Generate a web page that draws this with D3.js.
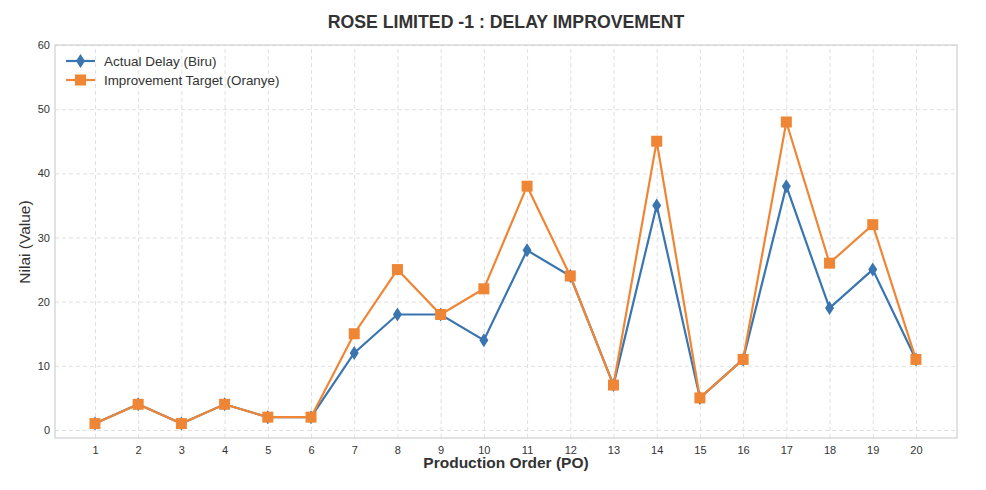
<!DOCTYPE html>
<html>
<head>
<meta charset="utf-8">
<script src="https://cdn.jsdelivr.net/npm/d3@7"></script>
<style>
  body { margin: 0; background: #fff; }
  svg { font-family: "Liberation Sans", Arial, sans-serif; }
  .grid line { stroke: #dcdcdc; stroke-dasharray: 4,3; stroke-width: 0.9; }
  .tick text { fill: #333; font-size: 11px; }
</style>
</head>
<body>
<svg id="chart"></svg>
<script>
var poOrders = [1,2,3,4,5,6,7,8,9,10,11,12,13,14,15,16,17,18,19,20];
var actualDelay = [1,4,1,4,2,2,12,18,18,14,28,24,7,35,5,11,38,19,25,11];
var improvementTarget = [1,4,1,4,2,2,15,25,18,22,38,24,7,45,5,11,48,26,32,11];
var yTicks = [0,10,20,30,40,50,60];

var width = 986, height = 490;
var margin = {top: 45, right: 29, bottom: 52, left: 55};

var svg = d3.select('#chart')
    .attr('width', width)
    .attr('height', height);

// scales
var x = d3.scaleLinear()
    .domain([0.075, 20.95])
    .range([margin.left, width - margin.right]);
var y = d3.scaleLinear()
    .domain([-1.25, 60])
    .range([height - margin.bottom, margin.top]);

// grid
svg.append('g')
    .attr('class', 'grid')
    .attr('transform', 'translate(0,' + (height - margin.bottom) + ')')
    .call(d3.axisBottom(x).tickValues(poOrders).tickSize(-(height - margin.top - margin.bottom)).tickFormat(''))
    .call(g => g.select('.domain').remove());
svg.append('g')
    .attr('class', 'grid')
    .attr('transform', 'translate(' + margin.left + ',0)')
    .call(d3.axisLeft(y).tickValues(yTicks).tickSize(-(width - margin.left - margin.right)).tickFormat(''))
    .call(g => g.select('.domain').remove());

// axes labels
svg.append('g')
    .attr('transform', 'translate(0,' + (height - margin.bottom) + ')')
    .call(d3.axisBottom(x).tickValues(poOrders).tickSize(0).tickPadding(8).tickFormat(d3.format('d')))
    .call(g => g.select('.domain').remove());
svg.append('g')
    .attr('transform', 'translate(' + margin.left + ',0)')
    .call(d3.axisLeft(y).tickValues(yTicks).tickSize(0).tickPadding(5))
    .call(g => g.select('.domain').remove());

// frame
svg.append('rect')
    .attr('x', margin.left)
    .attr('y', margin.top)
    .attr('width', width - margin.left - margin.right)
    .attr('height', height - margin.top - margin.bottom)
    .attr('fill', 'none')
    .attr('stroke', '#cfcfcf')
    .attr('stroke-width', 1.2);

var blue = '#3a75b0', orange = '#ef8636';

var line = d3.line()
    .x((d, i) => x(poOrders[i]))
    .y(d => y(d));

function diamond(sel, cx, cy) {
  sel.append('path')
    .attr('d', 'M' + cx + ',' + (cy - 7) + 'L' + (cx + 4.5) + ',' + cy + 'L' + cx + ',' + (cy + 7) + 'L' + (cx - 4.5) + ',' + cy + 'Z')
    .attr('fill', blue);
}
function square(sel, cx, cy) {
  sel.append('rect')
    .attr('x', cx - 5.5).attr('y', cy - 5.5)
    .attr('width', 11).attr('height', 11)
    .attr('fill', orange);
}

// actual delay
svg.append('path')
    .datum(actualDelay)
    .attr('fill', 'none')
    .attr('stroke', blue)
    .attr('stroke-width', 2.2)
    .attr('d', line);
var gA = svg.append('g');
actualDelay.forEach((d, i) => diamond(gA, x(poOrders[i]), y(d)));

// improvement target
svg.append('path')
    .datum(improvementTarget)
    .attr('fill', 'none')
    .attr('stroke', orange)
    .attr('stroke-width', 2.2)
    .attr('d', line);
var gT = svg.append('g');
improvementTarget.forEach((d, i) => square(gT, x(poOrders[i]), y(d)));

// legend
var legend = svg.append('g');
legend.append('line').attr('x1', 66).attr('x2', 95).attr('y1', 61).attr('y2', 61)
    .attr('stroke', blue).attr('stroke-width', 2.2);
diamond(legend, 80.5, 61);
legend.append('text').attr('x', 104).attr('y', 66).attr('font-size', '13.5px').attr('fill', '#333')
    .text('Actual Delay (Biru)');
legend.append('line').attr('x1', 66).attr('x2', 95).attr('y1', 80).attr('y2', 80)
    .attr('stroke', orange).attr('stroke-width', 2.2);
square(legend, 80.5, 80);
legend.append('text').attr('x', 104).attr('y', 85).attr('font-size', '13.4px').attr('fill', '#333')
    .text('Improvement Target (Oranye)');

// titles
svg.append('text')
    .attr('x', 506).attr('y', 28)
    .attr('text-anchor', 'middle')
    .attr('font-size', '17.7px').attr('font-weight', 'bold').attr('fill', '#333')
    .text('ROSE LIMITED -1 : DELAY IMPROVEMENT');
svg.append('text')
    .attr('x', 506).attr('y', 468)
    .attr('text-anchor', 'middle')
    .attr('font-size', '15.5px').attr('font-weight', 'bold').attr('fill', '#333')
    .text('Production Order (PO)');
svg.append('text')
    .attr('transform', 'translate(30,' + 242 + ') rotate(-90)')
    .attr('text-anchor', 'middle')
    .attr('font-size', '15.5px').attr('fill', '#333')
    .text('Nilai (Value)');
</script>
</body>
</html>
